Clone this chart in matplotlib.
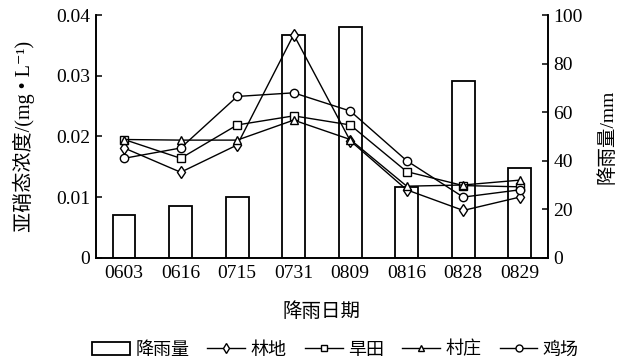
import matplotlib
matplotlib.use("Agg")
import matplotlib.pyplot as plt
from matplotlib.patches import Patch
from matplotlib.lines import Line2D
import numpy as np

plt.rcParams['font.family'] = ['Liberation Serif', 'Noto Sans CJK SC', 'DejaVu Serif']

# sampling dates and rainfall
dates = ['0603', '0616', '0715', '0731', '0809', '0816', '0828', '0829']
rain = [17.5, 21.4, 25, 92, 95, 29, 73, 37]

# nitrite concentration per land use (mg/L)
forest = [0.0181, 0.0141, 0.0186, 0.0368, 0.0193, 0.0112, 0.0078, 0.0100]
dryland = [0.0195, 0.0164, 0.0219, 0.0234, 0.0219, 0.0142, 0.0119, 0.0117]
village = [0.0195, 0.0194, 0.0194, 0.0227, 0.0195, 0.0118, 0.0120, 0.0128]
chicken = [0.0164, 0.0181, 0.0266, 0.0272, 0.0242, 0.0160, 0.0100, 0.0112]

series = [(forest, 'd', 6.5, '林地'),
          (dryland, 's', 5.5, '旱田'),
          (village, '^', 6, '村庄'),
          (chicken, 'o', 6, '鸡场')]

fs = 14

fig = plt.figure(figsize=(6.27, 3.62), dpi=100)
ax = fig.add_axes([0.153, 0.288, 0.721, 0.670])
ax2 = ax.twinx()
ax.set_zorder(ax2.get_zorder() + 1)
ax.patch.set_visible(False)

x = np.arange(len(dates))
ax2.bar(x, rain, width=0.4, facecolor='white', edgecolor='black', linewidth=1.3)

for vals, mk, ms, name in series:
    ax.plot(x, vals, color='black', linewidth=1.0, marker=mk, markersize=ms,
            markerfacecolor='white', markeredgecolor='black', markeredgewidth=1.0)

ax.set_xlim(-0.5, len(dates) - 0.5)
ax.set_ylim(0, 0.04)
ax.set_yticks([0, 0.01, 0.02, 0.03, 0.04])
ax.set_yticklabels(['0', '0.01', '0.02', '0.03', '0.04'])
ax2.set_ylim(0, 100)
ax2.set_yticks([0, 20, 40, 60, 80, 100])

ax.set_xticks(x)
ax.set_xticklabels(dates)
ax.tick_params(axis='x', length=0, pad=5, labelsize=fs)
ax.tick_params(axis='y', direction='in', length=4, width=1.1, labelsize=fs, pad=4)
ax2.tick_params(axis='y', direction='in', length=4, width=1.1, labelsize=fs, pad=4)

for a in (ax, ax2):
    a.spines['top'].set_visible(False)
    for s in ('left', 'right', 'bottom'):
        a.spines[s].set_linewidth(1.2)

ax.set_xlabel('降雨日期', fontsize=fs, labelpad=15)
ax.set_ylabel('亚硝态浓度/(mg • L⁻¹)', fontsize=fs + 0.5, labelpad=15)
ax2.set_ylabel('降雨量/mm', fontsize=fs, labelpad=11)

handles = [Patch(facecolor='white', edgecolor='black', linewidth=1.3)]
labels = ['降雨量']
for vals, mk, ms, name in series:
    handles.append(Line2D([], [], color='black', linewidth=1.0, marker=mk,
                          markersize=ms - 1, markerfacecolor='white',
                          markeredgecolor='black'))
    labels.append(name)
fig.legend(handles, labels, loc='center', bbox_to_anchor=(0.535, 0.033),
           ncol=5, frameon=False, fontsize=13, handlelength=2.1,
           handletextpad=0.3, columnspacing=1.0)

fig.savefig('out.png', dpi=100)
